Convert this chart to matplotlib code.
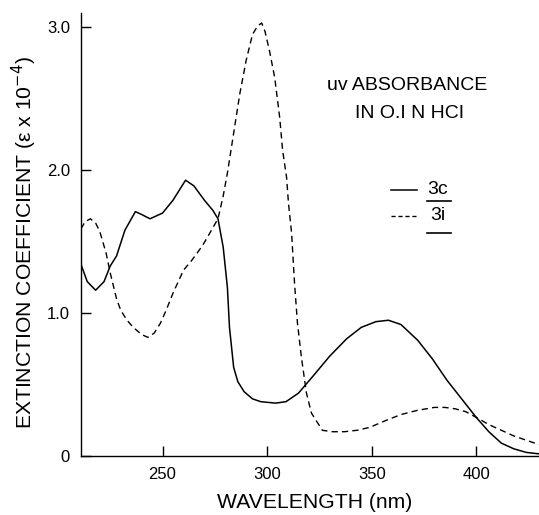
import matplotlib
matplotlib.use("Agg")
import matplotlib.pyplot as plt
from matplotlib.lines import Line2D

plt.rcParams['font.family'] = ['Liberation Sans', 'DejaVu Sans']

# 3c (solid)
wl_3c = [211, 214, 218, 222, 225, 228, 232, 237, 240, 244, 250, 255, 261, 265,
         270, 274, 276.5, 279, 281, 282, 284, 286, 289, 293, 297, 304, 309, 315,
         322, 330, 338, 345, 352, 358, 364, 372, 379, 386, 393, 400, 406, 412,
         418, 424, 430]
eps_3c = [1.34, 1.22, 1.16, 1.22, 1.33, 1.40, 1.58, 1.71, 1.69, 1.66, 1.70, 1.79,
          1.93, 1.89, 1.79, 1.72, 1.66, 1.46, 1.18, 0.90, 0.62, 0.52, 0.45, 0.40,
          0.38, 0.37, 0.38, 0.44, 0.56, 0.70, 0.82, 0.90, 0.94, 0.95, 0.92, 0.81,
          0.68, 0.53, 0.40, 0.27, 0.17, 0.09, 0.05, 0.025, 0.015]

# 3i (dashed)
wl_3i = [211, 213, 215.5, 218, 220, 223, 225, 228, 230, 233, 236, 240, 243, 246,
         249, 252, 255, 260, 264, 269, 273, 276.5, 279, 281, 284, 287, 290, 293,
         295.5, 297.4, 299, 301.2, 303.6, 306, 307.4, 309.3, 310.2, 311.7, 313.1,
         314.5, 316.4, 318.8, 321.2, 326.4, 331, 337, 343, 349, 357, 364, 372,
         380, 385, 390, 395, 400, 406, 412, 418, 424, 430]
eps_3i = [1.59, 1.64, 1.66, 1.63, 1.57, 1.42, 1.28, 1.10, 1.02, 0.95, 0.90, 0.85,
          0.83, 0.86, 0.93, 1.03, 1.14, 1.30, 1.37, 1.47, 1.57, 1.66, 1.82, 1.98,
          2.26, 2.54, 2.77, 2.95, 3.01, 3.03, 2.97, 2.83, 2.65, 2.37, 2.14, 1.95,
          1.77, 1.56, 1.21, 0.93, 0.69, 0.44, 0.30, 0.18, 0.17, 0.17, 0.18, 0.20,
          0.25, 0.29, 0.32, 0.34, 0.34, 0.33, 0.31, 0.27, 0.22, 0.18, 0.14, 0.11,
          0.08]

x_ticks = [250, 300, 350, 400]
y_ticks = [0, 1, 2, 3]
y_ticklabels = ['0', '1.0', '2.0', '3.0']

W, H = 539, 515
fig = plt.figure(figsize=(W / 100, H / 100), dpi=100)
ax = fig.add_axes([81 / W, 1 - 456 / H, 1 - 81 / W, (456 - 13) / H])

ax.plot(wl_3c, eps_3c, color='black', lw=1.1, solid_joinstyle='round')
ax.plot(wl_3i, eps_3i, color='black', lw=1.0, linestyle=(0, (4.5, 3)))

ax.set_xlim(211, 430)
ax.set_ylim(0, 3.1)
for s in ['top', 'right']:
    ax.spines[s].set_visible(False)
for s in ['left', 'bottom']:
    ax.spines[s].set_linewidth(1.0)

ax.set_xticks(x_ticks)
ax.set_yticks(y_ticks)
ax.set_yticklabels(y_ticklabels)
ax.tick_params(axis='both', direction='in', length=7, width=1.0, labelsize=12)
ax.tick_params(axis='x', pad=8)
ax.tick_params(axis='y', pad=8)

fig.text(24 / W, 1 - 242 / H, 'EXTINCTION COEFFICIENT (\u03b5 x 10$^{-4}$)',
         rotation=90, ha='center', va='center', fontsize=15.2)
fig.text(315 / W, 1 - 502 / H, 'WAVELENGTH (nm)', ha='center', va='center',
         fontsize=15.2)

fig.text(407 / W, 1 - 85 / H, 'uv ABSORBANCE', ha='center', va='center',
         fontsize=14)
fig.text(410 / W, 1 - 114 / H, 'IN O.I N HCI', ha='center', va='center',
         fontsize=14)

# legend
fig.add_artist(Line2D([391 / W, 417 / W], [1 - 190 / H, 1 - 190 / H],
                      color='black', lw=1.1))
fig.add_artist(Line2D([391 / W, 417 / W], [1 - 216 / H, 1 - 216 / H],
                      color='black', lw=1.0, linestyle=(0, (3, 2))))
fig.text(438 / W, 1 - 189 / H, '3c', ha='center', va='center', fontsize=14)
fig.text(438 / W, 1 - 215 / H, '3i', ha='center', va='center', fontsize=14)
fig.add_artist(Line2D([427 / W, 451 / W], [1 - 201 / H, 1 - 201 / H],
                      color='black', lw=1.2))
fig.add_artist(Line2D([427 / W, 451 / W], [1 - 233 / H, 1 - 233 / H],
                      color='black', lw=1.2))

fig.savefig('out.png', dpi=100)
